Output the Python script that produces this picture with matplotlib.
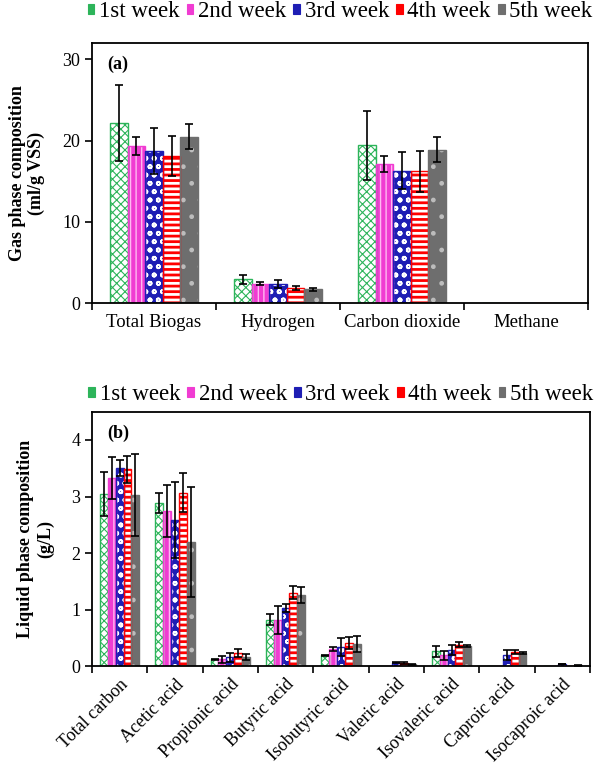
import numpy as np
import matplotlib
matplotlib.use("Agg")
import matplotlib.pyplot as plt
from matplotlib.patches import Patch

plt.rcParams['font.family'] = ['Liberation Serif', 'DejaVu Serif']

weeks = ['1st week', '2nd week', '3rd week', '4th week', '5th week']

# gas phase (ml/g VSS)
gas_cats = ['Total Biogas', 'Hydrogen', 'Carbon dioxide', 'Methane']
gas_w1 = [22.2, 2.9, 19.4, 0]
gas_w2 = [19.3, 2.4, 17.1, 0]
gas_w3 = [18.7, 2.3, 16.3, 0]
gas_w4 = [18.1, 1.9, 16.2, 0]
gas_w5 = [20.5, 1.7, 18.9, 0]
gas_e1 = [4.7, 0.5, 4.2, 0]
gas_e2 = [1.1, 0.2, 1.0, 0]
gas_e3 = [2.8, 0.5, 2.3, 0]
gas_e4 = [2.5, 0.25, 2.5, 0]
gas_e5 = [1.55, 0.2, 1.55, 0]

# liquid phase (g/L)
liq_cats = ['Total carbon', 'Acetic acid', 'Propionic acid', 'Butyric acid',
            'Isobutyric acid', 'Valeric acid', 'Isovaleric acid', 'Caproic acid',
            'Isocaproic acid']
liq_w1 = [3.04, 2.88, 0.12, 0.82, 0.19, 0, 0.26, 0, 0]
liq_w2 = [3.33, 2.74, 0.12, 0.82, 0.30, 0, 0.19, 0, 0]
liq_w3 = [3.50, 2.58, 0.16, 1.03, 0.335, 0.06, 0.28, 0.19, 0.04]
liq_w4 = [3.48, 3.07, 0.235, 1.30, 0.41, 0.05, 0.38, 0.25, 0]
liq_w5 = [3.03, 2.20, 0.16, 1.26, 0.39, 0.03, 0.35, 0.23, 0.015]
liq_e1 = [0.39, 0.18, 0.01, 0.10, 0.005, 0, 0.10, 0, 0]
liq_e2 = [0.37, 0.46, 0.06, 0.25, 0.035, 0, 0.085, 0, 0]
liq_e3 = [0.14, 0.67, 0.08, 0.07, 0.16, 0.01, 0.09, 0.09, 0.005]
liq_e4 = [0.24, 0.34, 0.07, 0.12, 0.10, 0.02, 0.04, 0.04, 0]
liq_e5 = [0.73, 0.97, 0.06, 0.14, 0.14, 0.01, 0.02, 0.02, 0.005]

# (face, hatch colour, edge, hatch, hatch lw)
styles = [
    ('white', '#2DB45A', '#2DB45A', 'xxxx', 0.8),
    ('#F03CD2', '#FFB8F2', '#F03CD2', '|||', 1.0),
    ('#1E1EB4', 'white', '#1E1EB4', 'oo', 1.2),
    ('white', '#FF0000', '#FF0000', '---', 2.0),
    ('#6E6E6E', '#BDBDBD', '#6E6E6E', '.', 1.0),
]

bw = 0.142


def draw(ax, cats, vals, errs):
    x = np.arange(len(cats))
    for i, (v, e) in enumerate(zip(vals, errs)):
        face, hc, ec, hatch, hlw = styles[i]
        xs = x + (i - 2) * bw
        with plt.rc_context({'hatch.linewidth': hlw}):
            ax.bar(xs, v, bw, color=face, edgecolor=hc, hatch=hatch, linewidth=0, zorder=1)
        ax.bar(xs, v, bw, fill=False, edgecolor=ec, linewidth=1.0, zorder=2)
        v = np.array(v)
        e = np.array(e)
        m = e > 0
        ax.errorbar(xs[m], v[m], yerr=e[m], fmt='none', ecolor='black',
                    elinewidth=1.2, capsize=3, capthick=1.2, zorder=3)
    ax.set_xlim(-0.5, len(cats) - 0.5)
    ax.set_xticks(np.arange(len(cats) + 1) - 0.5)
    ax.set_xticklabels([])
    ax.set_xticks(x, minor=True)
    ax.tick_params(axis='x', which='minor', length=0)
    ax.tick_params(axis='x', which='major', length=5, width=1.2, direction='out')
    ax.tick_params(axis='y', length=5, width=1.2, labelsize=13)
    for s in ax.spines.values():
        s.set_linewidth(1.3)


def add_legend(ax, y):
    handles = []
    for face, hc, ec, hatch, hlw in styles:
        handles.append(Patch(facecolor=ec, edgecolor=ec, linewidth=0.8))
    ax.legend(handles, weeks, loc='center', bbox_to_anchor=(0.5, y), ncol=5,
              frameon=False, fontsize=16.5, handlelength=0.3, handleheight=0.3,
              handletextpad=0.2, columnspacing=0.3, borderaxespad=0, borderpad=0)


fig = plt.figure(figsize=(5.97, 7.71), dpi=100)
ax1 = fig.add_axes([0.154, 0.607, 0.831, 0.337])
ax2 = fig.add_axes([0.154, 0.136, 0.834, 0.330])

draw(ax1, gas_cats, [gas_w1, gas_w2, gas_w3, gas_w4, gas_w5],
     [gas_e1, gas_e2, gas_e3, gas_e4, gas_e5])
ax1.set_ylim(0, 32)
ax1.set_yticks([0, 10, 20, 30])
ax1.set_xticklabels(gas_cats, minor=True, fontsize=13.5)
ax1.tick_params(axis='x', which='minor', pad=8)
ax1.set_ylabel('Gas phase composition\n(ml/g VSS)', fontsize=13, fontweight='bold', labelpad=12)
ax1.text(0.03, 0.95, '(a)', transform=ax1.transAxes, fontsize=13, fontweight='bold', va='top')
add_legend(ax1, 1.12)

draw(ax2, liq_cats, [liq_w1, liq_w2, liq_w3, liq_w4, liq_w5],
     [liq_e1, liq_e2, liq_e3, liq_e4, liq_e5])
ax2.set_ylim(0, 4.5)
ax2.set_yticks([0, 1, 2, 3, 4])
ax2.set_xticklabels(liq_cats, minor=True, fontsize=13, rotation=45,
                    ha='right', rotation_mode='anchor')
ax2.tick_params(axis='x', which='minor', pad=7)
ax2.set_ylabel('Liquid phase composition\n(g/L)', fontsize=13, fontweight='bold', labelpad=12)
ax2.text(0.03, 0.95, '(b)', transform=ax2.transAxes, fontsize=13, fontweight='bold', va='top')
add_legend(ax2, 1.067)

fig.savefig('out.png', dpi=100)
